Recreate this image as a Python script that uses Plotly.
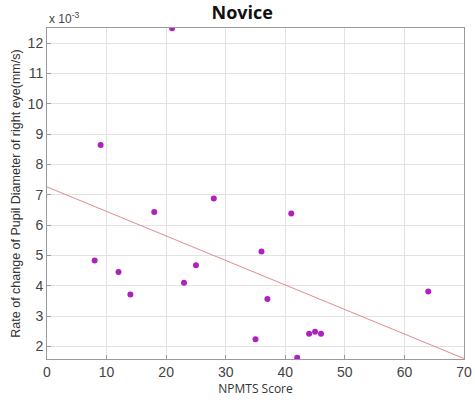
import plotly.graph_objects as go

npmts_score = [9, 21, 28, 18, 8, 12, 14, 23, 25, 41, 36, 37, 35, 44, 45, 46, 42, 64]
pupil_rate = [8.64, 12.49, 6.88, 6.43, 4.83, 4.45, 3.71, 4.10, 4.68, 6.38, 5.13, 3.56, 2.24, 2.42, 2.48, 2.42, 1.63, 3.81]
fit_x = [0, 70]
fit_y = [7.26, 1.60]
x_ticks = [0, 10, 20, 30, 40, 50, 60, 70]
y_ticks = [2, 3, 4, 5, 6, 7, 8, 9, 10, 11, 12]

fig = go.Figure()
fig.add_trace(go.Scatter(x=fit_x, y=fit_y, mode="lines",
                         line=dict(color="#e08a8a", width=1), hoverinfo="skip"))
fig.add_trace(go.Scatter(x=npmts_score, y=pupil_rate, mode="markers",
                         marker=dict(color="#b020c0", size=6)))

axis_common = dict(showline=True, linecolor="#9a9a9a", linewidth=1, mirror=True,
                   showgrid=True, gridcolor="#e2e2e2", gridwidth=1,
                   ticks="inside", ticklen=4, tickcolor="#9a9a9a",
                   zeroline=False, automargin=False,
                   tickfont=dict(family="Liberation Sans, Arial, sans-serif", size=14, color="#444"))

fig.update_layout(
    width=475, height=403,
    margin=dict(l=47, r=11, t=28, b=44),
    paper_bgcolor="white", plot_bgcolor="white",
    showlegend=False,
    title=dict(text="<b>Novice</b>", x=0.51, xanchor="center", y=0.985, yanchor="top",
               font=dict(family="Open Sans, sans-serif", size=18, color="#111")),
    xaxis=dict(range=[0, 70], tickvals=x_ticks,
               title=dict(text="NPMTS Score", standoff=2,
                          font=dict(family="Open Sans, sans-serif", size=12, color="#333")),
               **axis_common),
    yaxis=dict(range=[1.585, 12.5], tickvals=y_ticks,
               title=dict(text="Rate of change of Pupil Diameter of right eye(mm/s)", standoff=4,
                          font=dict(family="Liberation Sans, Arial, sans-serif", size=12.5, color="#333")),
               **axis_common),
    annotations=[dict(text="x 10<sup>-3</sup>", xref="paper", yref="paper", x=0.0, y=1.0,
                      xanchor="left", yanchor="bottom", showarrow=False,
                      font=dict(family="Liberation Sans, Arial, sans-serif", size=12, color="#444"))],
)

fig.write_html("out.html", config={"displayModeBar": False},
               post_script="document.body.style.margin='0';")
